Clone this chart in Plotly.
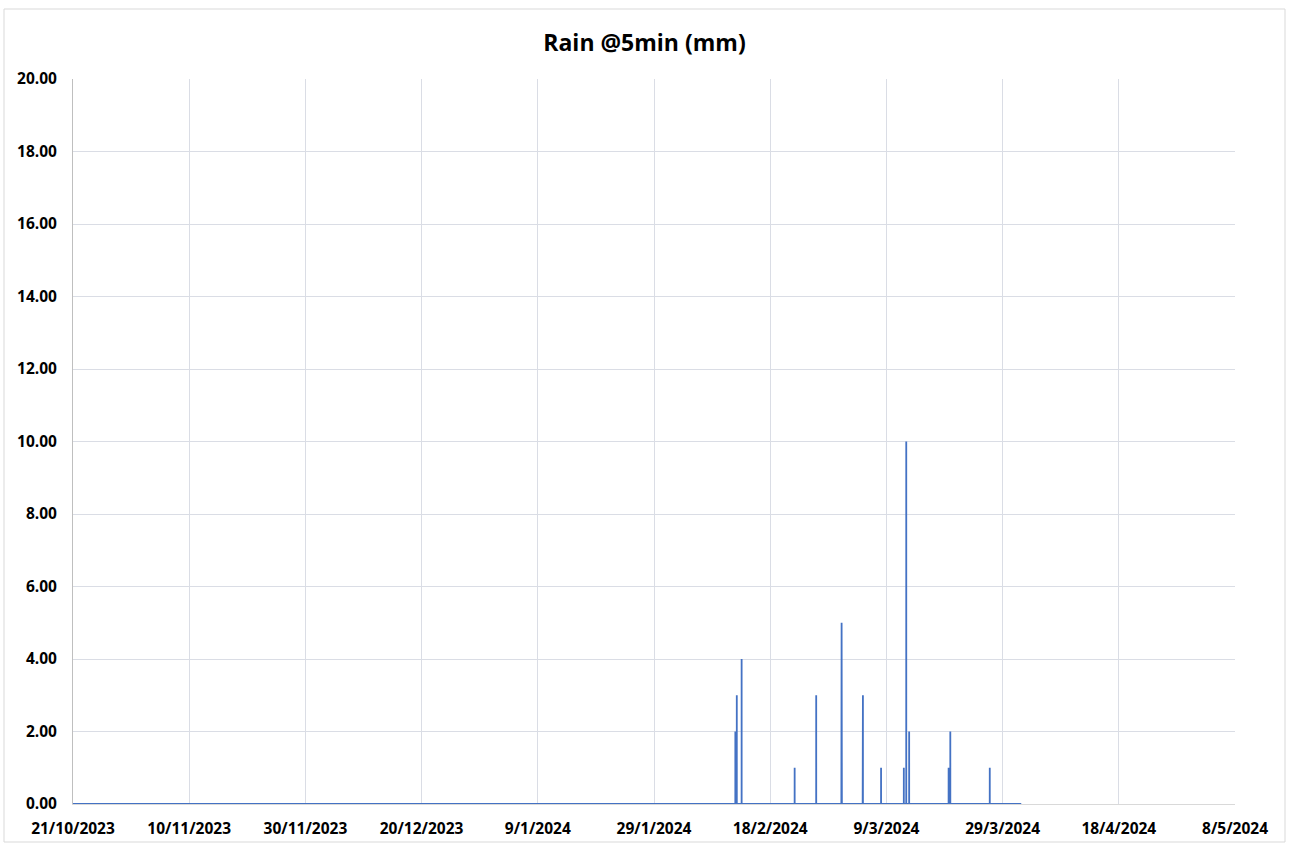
import pandas as pd
import plotly.graph_objects as go

# ---- data ----
series_start = "2023-10-21 00:00"
series_end = "2024-04-01 05:00"
event_times = [
    "2024-02-12 00:00", "2024-02-12 06:00", "2024-02-13 02:00",
    "2024-02-22 05:00", "2024-02-25 22:00",
    "2024-03-01 06:00", "2024-03-01 07:00", "2024-03-01 08:00",
    "2024-03-04 22:00", "2024-03-04 23:00",
    "2024-03-08 02:00",
    "2024-03-12 00:00", "2024-03-12 10:00", "2024-03-12 22:00",
    "2024-03-19 17:00", "2024-03-20 00:00",
    "2024-03-26 19:00",
]
event_values = [
    2, 3, 4,
    1, 3,
    2, 5, 1,
    1, 3,
    1,
    1, 10, 2,
    1, 2,
    1,
]
tick_dates = ["2023-10-21", "2023-11-10", "2023-11-30", "2023-12-20", "2024-01-09",
              "2024-01-29", "2024-02-18", "2024-03-09", "2024-03-29", "2024-04-18", "2024-05-08"]
y_ticks = [0, 2, 4, 6, 8, 10, 12, 14, 16, 18, 20]

# ---- build 5-minute readings (zero readings either side of each event) ----
step = pd.Timedelta(minutes=5)
xs = [pd.Timestamp(series_start)]
ys = [0]
for t, v in zip(event_times, event_values):
    ts = pd.Timestamp(t)
    xs += [ts - step, ts, ts + step]
    ys += [0, v, 0]
xs.append(pd.Timestamp(series_end))
ys.append(0)

tick_ts = [pd.Timestamp(d) for d in tick_dates]
tick_text = [f"{d.day}/{d.month}/{d.year}" for d in tick_ts]

fig = go.Figure()
fig.add_trace(go.Scatter(x=xs, y=ys, mode="lines",
                         line=dict(color="#4472C4", width=1.8), showlegend=False))

font_family = "Open Sans, Liberation Sans, sans-serif"
fig.update_layout(
    width=1289, height=843,
    margin=dict(l=73, r=54, t=79, b=39),
    paper_bgcolor="white", plot_bgcolor="white",
    title=dict(text="<b>Rain @5min (mm)</b>", x=0.5, xanchor="center", y=0.949, yanchor="middle",
               font=dict(family=font_family, size=23, color="#000000")),
    font=dict(family=font_family, color="#000000"),
    xaxis=dict(
        type="date", automargin=False, layer="below traces",
        range=[tick_ts[0], tick_ts[-1]],
        tickmode="array", tickvals=tick_ts, ticktext=tick_text,
        showgrid=True, gridcolor="#dadde5", gridwidth=1,
        showline=True, linecolor="#d9d9d9", linewidth=1,
        ticks="", zeroline=False, ticklabelstandoff=10,
        tickfont=dict(family=font_family, size=15.5, color="#000000", weight="bold"),
    ),
    yaxis=dict(
        automargin=False, layer="below traces",
        range=[0, 20], tickmode="array", tickvals=y_ticks,
        tickformat=".2f",
        showgrid=True, gridcolor="#dadde5", gridwidth=1,
        showline=True, linecolor="#bfbfbf", linewidth=1,
        ticks="", zeroline=False, ticklabelstandoff=12,
        tickfont=dict(family=font_family, size=15.5, color="#000000", weight="bold"),
    ),
)

# outer chart border
fig.add_shape(type="rect", xref="paper", yref="paper",
              x0=(4 - 73) / 1162, x1=(1285 - 73) / 1162,
              y0=(804 - 842) / 725, y1=(804 - 9) / 725,
              line=dict(color="#d9d9d9", width=1), fillcolor="rgba(0,0,0,0)", layer="below")

fig.write_html("out.html")
